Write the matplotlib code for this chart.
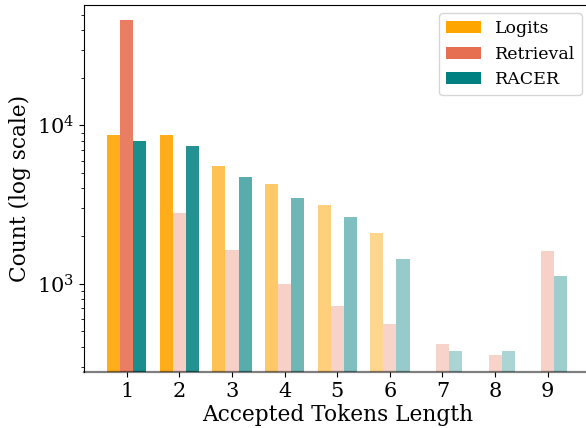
import numpy as np
import matplotlib
matplotlib.use("Agg")
import matplotlib.pyplot as plt

plt.rcParams["font.family"] = ["DejaVu Serif"]
plt.rcParams["mathtext.fontset"] = "dejavuserif"

# Accepted token lengths and per-method counts
lengths = [1, 2, 3, 4, 5, 6, 7, 8, 9]
logits = [8650, 8650, 5520, 4240, 3160, 2100, np.nan, np.nan, np.nan]
retrieval = [46200, 2810, 1640, 995, 727, 559, 417, 356, 1620]
racer = [7930, 7360, 4690, 3500, 2655, 1440, 376, 376, 1125]

series = [
    ("Logits", logits, "#FFA500"),
    ("Retrieval", retrieval, "#E76F51"),
    ("RACER", racer, "#008080"),
]

fig = plt.figure(figsize=(5.86, 4.28), dpi=100)
ax = fig.add_axes([84 / 586, 56 / 428, 506.5 / 586, 367.5 / 428])

width = 0.25
x = np.array(lengths, dtype=float)
for i, (name, vals, color) in enumerate(series):
    vals = np.array(vals, dtype=float)
    vmax = np.nanmax(vals)
    offs = (i - 1) * width
    for xi, v in zip(x, vals):
        if np.isnan(v):
            continue
        ax.bar(xi + offs, v, width=width, color=color,
               alpha=0.3 + 0.6 * v / vmax, linewidth=0)
    ax.bar(np.nan, np.nan, color=color, label=name)

ax.set_yscale("log")
ax.set_ylim(277, 58000)
ax.set_xlim(0.1875, 9.8125)
ax.set_xticks(lengths)
ax.tick_params(axis="x", labelsize=15, length=3.5)
ax.tick_params(axis="y", labelsize=15)

ax.spines["bottom"].set_color((0, 0, 0, 0.5))
ax.spines["bottom"].set_linewidth(1.6)
ax.spines["bottom"].set_zorder(3)

ax.set_xlabel("Accepted Tokens Length", fontsize=15.6, labelpad=2)
ax.set_ylabel("Count (log scale)", fontsize=15.6)
ax.legend(fontsize=12.5, loc="upper right")

fig.savefig("out.png", dpi=100)
